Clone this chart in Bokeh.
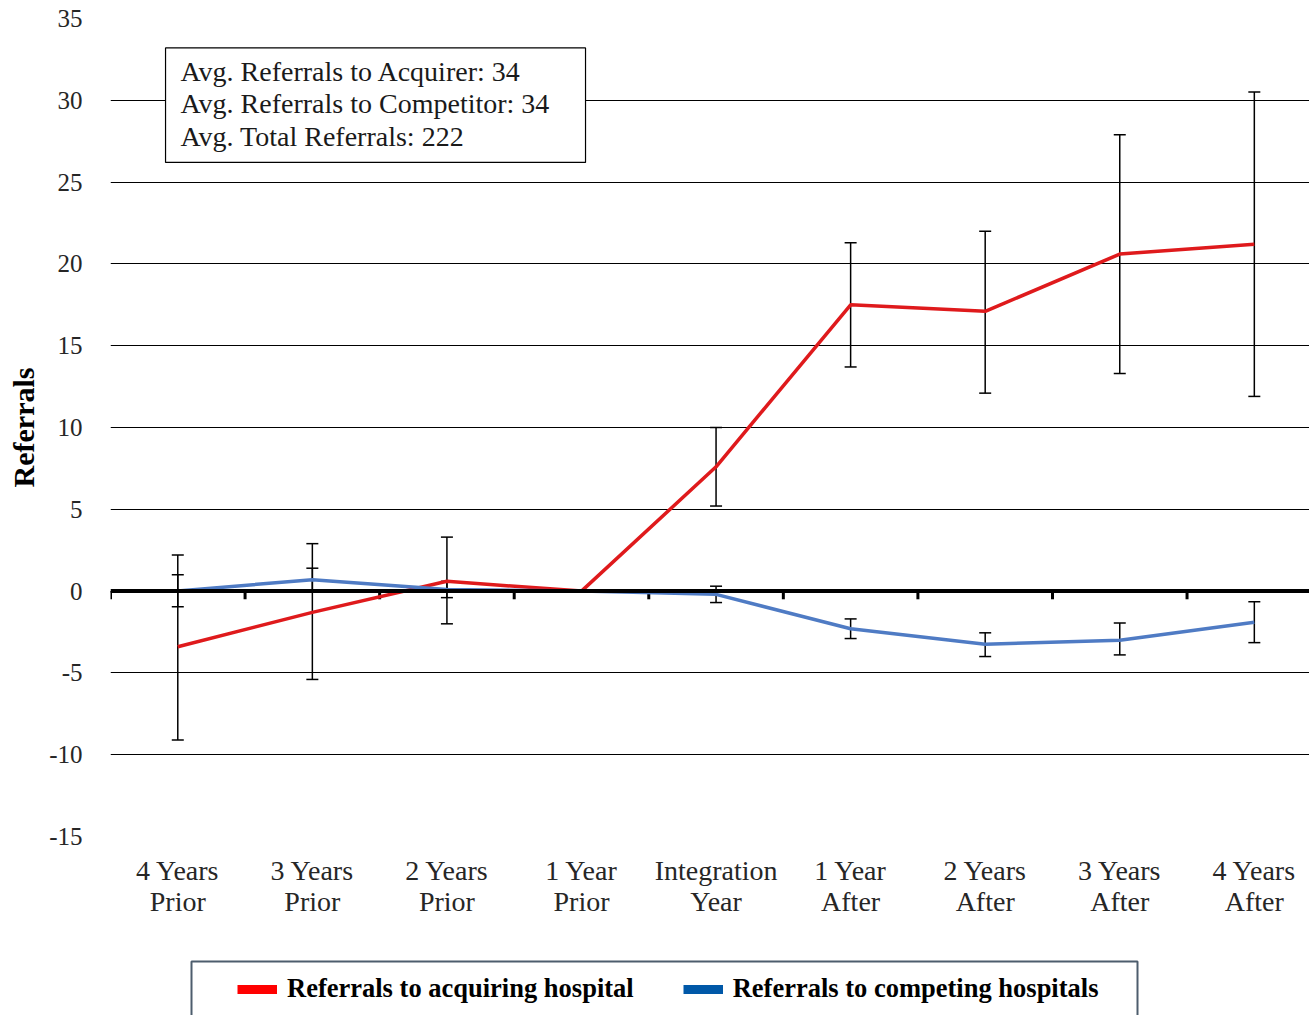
import numpy as np
from bokeh.plotting import figure
from bokeh.layouts import column
from bokeh.models import (ColumnDataSource, Whisker, TeeHead, FixedTicker, Label,
                          BoxAnnotation, Legend, LegendItem, Span)
from bokeh.embed import file_html
from bokeh.resources import INLINE

categories = ["4 Years\nPrior", "3 Years\nPrior", "2 Years\nPrior", "1 Year\nPrior",
              "Integration\nYear", "1 Year\nAfter", "2 Years\nAfter", "3 Years\nAfter", "4 Years\nAfter"]
acq_mean = [-3.4, -1.3, 0.6, 0.0, 7.6, 17.5, 17.1, 20.6, 21.2]
acq_upper = [2.2, 2.9, 3.3, np.nan, 10.0, 21.3, 22.0, 27.9, 30.5]
acq_lower = [-9.1, -5.4, -2.0, np.nan, 5.2, 13.7, 12.1, 13.3, 11.9]
comp_mean = [0.0, 0.7, 0.1, 0.0, -0.2, -2.3, -3.25, -3.0, -1.9]
comp_upper = [1.0, 1.4, 0.6, np.nan, 0.3, -1.7, -2.55, -1.95, -0.65]
comp_lower = [-0.95, 0.0, -0.4, np.nan, -0.7, -2.9, -4.0, -3.9, -3.15]
y_ticks = [-15, -10, -5, 0, 5, 10, 15, 20, 25, 30, 35]
box_lines = ["Avg. Referrals to Acquirer: 34", "Avg. Referrals to Competitor: 34", "Avg. Total Referrals: 222"]
legend_labels = ["Referrals to acquiring hospital", "Referrals to competing hospitals"]

x = np.arange(1, len(categories) + 1)
bounds = np.arange(len(categories) + 1) + 0.5

SERIF = "Liberation Serif"
RED = "#df1a1c"
BLUE = "#4f7bc4"
TXT = "#262626"

p = figure(width=1309, height=940, frame_width=1199, frame_height=818,
           min_border_left=110, min_border_top=18, min_border_right=0, min_border_bottom=104,
           x_range=(0.5, 9.41), y_range=(-15, 35),
           output_backend="svg", toolbar_location=None)
p.outline_line_color = None

# grid
p.xgrid.grid_line_color = None
p.ygrid.ticker = FixedTicker(ticks=y_ticks)
p.ygrid.grid_line_color = "black"
p.ygrid.grid_line_width = 1.2

# y axis
p.yaxis.ticker = FixedTicker(ticks=y_ticks)
p.yaxis.major_label_overrides = {t: str(t) for t in y_ticks}
p.yaxis.axis_line_color = None
p.yaxis.major_tick_line_color = None
p.yaxis.minor_tick_line_color = None
p.yaxis.major_label_standoff = 22
p.yaxis.major_label_text_font = SERIF
p.yaxis.major_label_text_font_size = "25px"
p.yaxis.major_label_text_color = TXT
p.yaxis.axis_label = "Referrals"
p.yaxis.axis_label_text_font = SERIF
p.yaxis.axis_label_text_font_style = "bold"
p.yaxis.axis_label_text_font_size = "30px"
p.yaxis.axis_label_text_color = "black"
p.yaxis.axis_label_standoff = 6

# x axis
p.xaxis.ticker = FixedTicker(ticks=list(x))
p.xaxis.major_label_overrides = {int(i): c for i, c in zip(x, categories)}
p.xaxis.axis_line_color = None
p.xaxis.major_tick_line_color = None
p.xaxis.minor_tick_line_color = None
p.xaxis.major_label_standoff = 12
p.xaxis.major_label_text_font = SERIF
p.xaxis.major_label_text_font_size = "28px"
p.xaxis.major_label_text_color = TXT
p.xaxis.major_label_text_line_height = 1.0

# zero axis line with ticks between categories
p.add_layout(Span(location=0, dimension="width", line_color="black", line_width=4))
p.segment(x0=bounds, y0=np.zeros_like(bounds), x1=bounds, y1=np.full_like(bounds, -0.5),
          line_color="black", line_width=3)

acq = ColumnDataSource(dict(x=x, y=acq_mean, upper=acq_upper, lower=acq_lower))
comp = ColumnDataSource(dict(x=x, y=comp_mean, upper=comp_upper, lower=comp_lower))

p.line("x", "y", source=acq, line_color=RED, line_width=3.5)
p.line("x", "y", source=comp, line_color=BLUE, line_width=3.5)

for src in (acq, comp):
    w = Whisker(source=src, base="x", upper="upper", lower="lower", dimension="height",
                line_color="black", line_width=1.5,
                upper_head=TeeHead(size=12, line_color="black", line_width=1.5),
                lower_head=TeeHead(size=12, line_color="black", line_width=1.5))
    p.add_layout(w)

# info box
p.add_layout(BoxAnnotation(left=0.909, right=4.03, top=33.2, bottom=26.2,
                           fill_color="white", fill_alpha=1.0,
                           line_color="black", line_width=1.2, line_alpha=1.0))
for i, t in enumerate(box_lines):
    p.add_layout(Label(x=1.02, y=31.78 - i * 1.99, text=t, text_font=SERIF,
                       text_font_size="28px", text_baseline="middle", text_color="#1a1a1a"))

# legend panel (data units = page pixels)
lp = figure(width=1309, height=75, frame_width=1199, frame_height=75,
            min_border_left=110, min_border_right=0, min_border_top=0, min_border_bottom=0,
            x_range=(110, 1309), y_range=(0, 75),
            output_backend="svg", toolbar_location=None)
lp.axis.visible = False
lp.grid.visible = False
lp.outline_line_color = None
lp.add_layout(BoxAnnotation(left=191, right=1137, top=54, bottom=-20,
                            fill_alpha=0, line_color="#4d5d6d", line_alpha=1.0, line_width=2))
r1 = lp.line([np.nan], [np.nan], line_color="#ff0000", line_width=9)
r2 = lp.line([np.nan], [np.nan], line_color="#0058a8", line_width=9)
leg = Legend(items=[LegendItem(label=legend_labels[0], renderers=[r1]),
                    LegendItem(label=legend_labels[1], renderers=[r2])],
             orientation="horizontal", location=(127, 11),
             padding=0, margin=0, spacing=49, label_standoff=10,
             glyph_width=40, glyph_height=30, label_height=30,
             label_text_font=SERIF, label_text_font_style="bold",
             label_text_font_size="26.5px", label_text_color="black",
             border_line_color=None, background_fill_alpha=0)
lp.add_layout(leg, "center")

open("out.html", "w").write(file_html(column(p, lp, spacing=0), INLINE))
